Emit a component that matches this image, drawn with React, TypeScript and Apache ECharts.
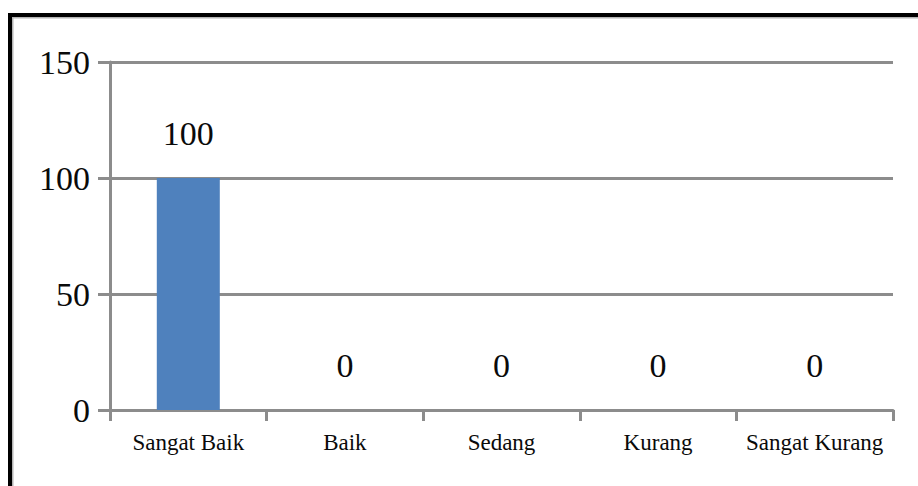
import React, { useEffect, useRef } from "react";
import * as echarts from "echarts";

const categories = ["Sangat Baik", "Baik", "Sedang", "Kurang", "Sangat Kurang"];
const values = [100, 0, 0, 0, 0];
const yTicks = { min: 0, max: 150, interval: 50 };

export default function App() {
  const ref = useRef<HTMLDivElement>(null);
  useEffect(() => {
    if (!ref.current) return;
    const chart = echarts.init(ref.current, null, { renderer: "svg" });
    const font = "'Liberation Serif', 'Times New Roman', serif";
    chart.setOption({
      animation: false,
      backgroundColor: "#ffffff",
      textStyle: { fontFamily: font },
      graphic: [
        {
          type: "rect",
          shape: { x: 12.5, y: 17.5, width: 1000, height: 600 },
          style: { fill: "none", stroke: "#b4b4b4", lineWidth: 2 },
          silent: true,
        },
        {
          type: "rect",
          shape: { x: 10, y: 15, width: 1000, height: 600 },
          style: { fill: "none", stroke: "#000000", lineWidth: 4 },
          silent: true,
        },
      ],
      grid: { left: 110, right: 25, top: 62, bottom: 76, containLabel: false },
      xAxis: {
        type: "category",
        data: categories,
        boundaryGap: true,
        axisLine: { show: true, lineStyle: { color: "#8c8c8c", width: 3 } },
        axisTick: { show: true, length: 11, alignWithLabel: false, lineStyle: { color: "#8c8c8c", width: 3 } },
        axisLabel: { color: "#0a0a0a", fontFamily: font, fontSize: 23, margin: 21, interval: 0 },
        splitLine: { show: false },
      },
      yAxis: {
        type: "value",
        min: yTicks.min,
        max: yTicks.max,
        interval: yTicks.interval,
        axisLine: { show: true, lineStyle: { color: "#8c8c8c", width: 3 } },
        axisTick: { show: true, length: 12, lineStyle: { color: "#8c8c8c", width: 3 } },
        axisLabel: { color: "#0a0a0a", fontFamily: font, fontSize: 34, margin: 20 },
        splitLine: { show: true, lineStyle: { color: "#8c8c8c", width: 3 } },
      },
      series: [
        {
          type: "bar",
          data: values,
          barWidth: 63,
          itemStyle: { color: "#4f81bd" },
          label: {
            show: true,
            position: "top",
            distance: 28,
            color: "#0a0a0a",
            fontFamily: font,
            fontSize: 34,
          },
        },
      ],
    });
    return () => chart.dispose();
  }, []);
  return (
    <div
      ref={ref}
      style={{ position: "fixed", left: 0, top: 0, width: 918, height: 486 }}
    />
  );
}
